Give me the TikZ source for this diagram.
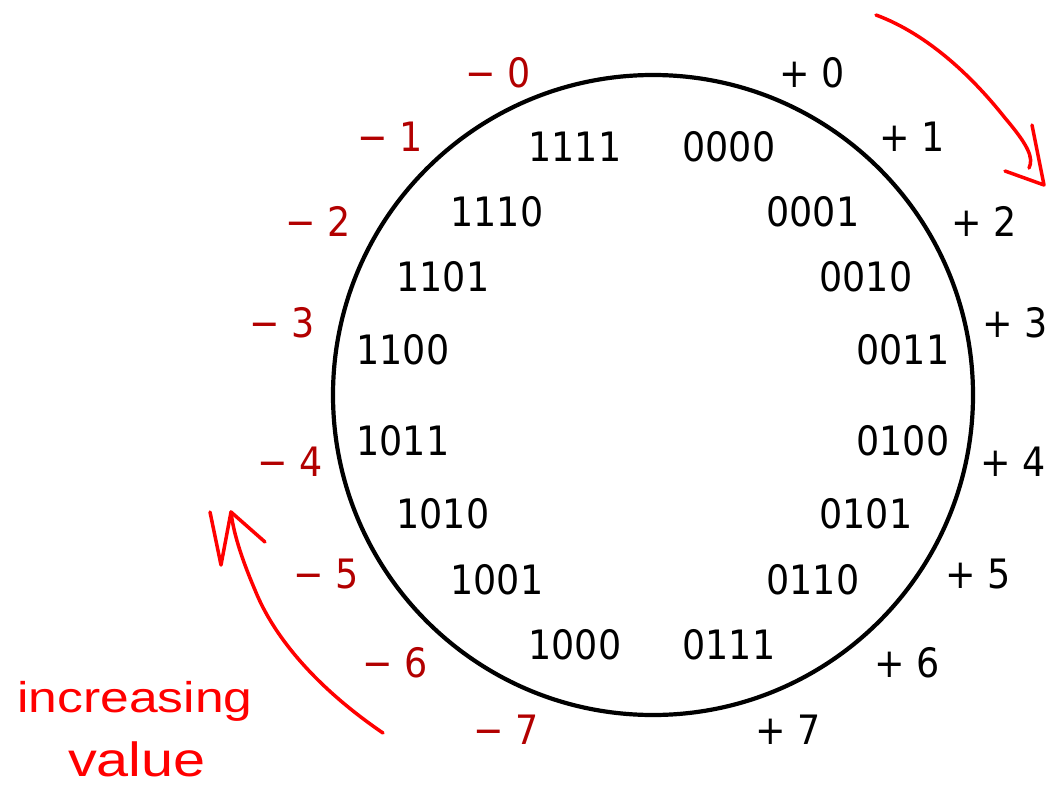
\documentclass[tikz,border=0pt]{standalone}
\usepackage{fontspec}
\newfontfamily\labfont{DejaVu Sans Condensed}
\newfontfamily\handfont{Liberation Sans}
\definecolor{negred}{RGB}{178,0,0}
\definecolor{penred}{RGB}{255,0,0}
\begin{document}
\begin{tikzpicture}[x=1pt,y=-1pt,
  lab/.style={inner sep=0pt,anchor=center,font=\labfont\fontsize{40.5}{48}\selectfont},
  negval/.style={lab,text=negred},
  posval/.style={lab,text=black},
  pen/.style={draw=penred,line width=3.5pt,line cap=round,line join=round},
  hand/.style={inner sep=0pt,anchor=base,text=penred}]
\useasboundingbox (0,0) rectangle (1047,792);
\node[draw,circle,line width=4.2pt,minimum size=640pt,inner sep=0pt] (ring) at (653,395) {};
% inner codes
\node[lab] (c15) at (575,147) {1111};
\node[lab] (c0) at (729,147) {0000};
\node[lab] (c14) at (497,212) {1110};
\node[lab] (c1) at (813,212) {0001};
\node[lab] (c13) at (443,277) {1101};
\node[lab] (c2) at (866,277) {0010};
\node[lab] (c12) at (403,350) {1100};
\node[lab] (c3) at (903,350) {0011};
\node[lab] (c11) at (403,441) {1011};
\node[lab] (c4) at (903,441) {0100};
\node[lab] (c10) at (443,514) {1010};
\node[lab] (c5) at (866,514) {0101};
\node[lab] (c9) at (497,580) {1001};
\node[lab] (c6) at (813,580) {0110};
\node[lab] (c8) at (575,645) {1000};
\node[lab] (c7) at (729,645) {0111};
% outer values
\node[negval] (n0) at (498,73) {− 0};
\node[posval] (p0) at (812,73) {+ 0};
\node[negval] (n1) at (390,137) {− 1};
\node[posval] (p1) at (912,137) {+ 1};
\node[negval] (n2) at (318,221) {− 2};
\node[posval] (p2) at (984,221) {+ 2};
\node[negval] (n3) at (282,323) {− 3};
\node[posval] (p3) at (1015,323) {+ 3};
\node[negval] (n4) at (290,462) {− 4};
\node[posval] (p4) at (1013,462) {+ 4};
\node[negval] (n5) at (326,574) {− 5};
\node[posval] (p5) at (978,574) {+ 5};
\node[negval] (n6) at (395,663) {− 6};
\node[posval] (p6) at (907,663) {+ 6};
\node[negval] (n7) at (506,730) {− 7};
\node[posval] (p7) at (788,730) {+ 7};
% top-right hand-drawn arrow
\draw[pen] (876,15) .. controls (930,35) and (975,80) .. (1005,118)
  .. controls (1028,145) and (1034,158) .. (1029,168);
\draw[pen] (1032,125) -- (1044,185) -- (1005,171);
% bottom-left hand-drawn arrow
\draw[pen] (383,733) .. controls (320,690) and (275,640) .. (255,590)
  .. controls (240,555) and (233,530) .. (231,512);
\draw[pen] (210,512) -- (221,565) -- (231,512) -- (265,542);
% handwritten note
\node[hand,xscale=1.2,font=\handfont\fontsize{43}{50}\selectfont] (inc) at (135,712) {increasing};
\node[hand,xscale=1.2,font=\handfont\fontsize{48}{54}\selectfont] (val) at (137,776) {value};
\end{tikzpicture}
\end{document}
